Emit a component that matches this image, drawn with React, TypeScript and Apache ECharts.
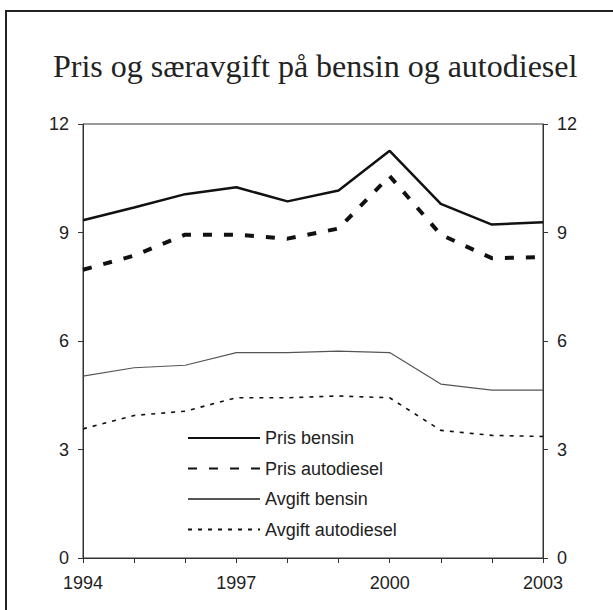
import React, { useEffect, useRef } from "react";
import * as echarts from "echarts";

const years = ["1994", "1995", "1996", "1997", "1998", "1999", "2000", "2001", "2002", "2003"];
const prisBensin = [9.34, 9.69, 10.06, 10.25, 9.86, 10.16, 11.26, 9.79, 9.22, 9.28];
const prisAutodiesel = [7.97, 8.36, 8.94, 8.94, 8.83, 9.11, 10.56, 8.94, 8.29, 8.32];
const avgiftBensin = [5.03, 5.26, 5.33, 5.68, 5.68, 5.72, 5.68, 4.81, 4.64, 4.64];
const avgiftAutodiesel = [3.57, 3.94, 4.06, 4.43, 4.43, 4.48, 4.43, 3.53, 3.39, 3.36];
const seriesNames = ["Pris bensin", "Pris autodiesel", "Avgift bensin", "Avgift autodiesel"];
const titleText = "Pris og særavgift på bensin og autodiesel";

export default function App() {
  const ref = useRef<HTMLDivElement>(null);
  useEffect(() => {
    if (!ref.current) return;
    const chart = echarts.init(ref.current, null, { renderer: "svg" });
    const axisColor = "#333";
    const sans = "'Liberation Sans', Arial, sans-serif";
    const yAxisCommon = {
      type: "value" as const,
      min: 0,
      max: 12,
      interval: 3,
      splitLine: { show: false },
      axisLine: { show: true, lineStyle: { color: axisColor, width: 1 } },
      axisTick: { show: true, length: 5, inside: false, lineStyle: { color: axisColor } },
      axisLabel: { fontSize: 18, fontFamily: sans, color: "#222", margin: 14 },
    };
    chart.setOption({
      animation: false,
      backgroundColor: "#fff",
      title: {
        text: titleText,
        left: 48,
        top: 45,
        textStyle: {
          fontFamily: "'Liberation Serif', 'Times New Roman', serif",
          fontSize: 32,
          fontWeight: "normal",
          color: "#222",
        },
      },
      graphic: [
        {
          type: "line",
          shape: { x1: 6, y1: 11, x2: 6, y2: 620 },
          style: { stroke: "#222", lineWidth: 2 },
          silent: true,
        },
        {
          type: "line",
          shape: { x1: 5, y1: 11, x2: 620, y2: 11 },
          style: { stroke: "#222", lineWidth: 2 },
          silent: true,
        },
      ],
      grid: { left: 83, right: 70, top: 124, bottom: 52, show: true, borderColor: axisColor, borderWidth: 1 },
      legend: {
        orient: "vertical",
        left: 182,
        top: 424,
        itemWidth: 72,
        itemHeight: 14,
        itemGap: 12.5,
        data: seriesNames,
        itemStyle: { opacity: 0 },
        textStyle: { fontSize: 18, fontFamily: sans, color: "#222" },
      },
      xAxis: {
        type: "category",
        data: years,
        boundaryGap: false,
        axisLine: { show: true, lineStyle: { color: axisColor } },
        axisTick: { show: true, interval: 0, length: 5, lineStyle: { color: axisColor } },
        axisLabel: { interval: 2, fontSize: 18, fontFamily: sans, color: "#222", margin: 16 },
        splitLine: { show: false },
      },
      yAxis: [
        { ...yAxisCommon, position: "left" },
        { ...yAxisCommon, position: "right" },
      ],
      series: [
        {
          name: seriesNames[0],
          type: "line",
          data: prisBensin,
          symbol: "none",
          lineStyle: { color: "#111", width: 2.5, type: "solid" },
          itemStyle: { color: "#111" },
        },
        {
          name: seriesNames[1],
          type: "line",
          data: prisAutodiesel,
          symbol: "none",
          lineStyle: { color: "#111", width: 4, type: [9, 12] },
          itemStyle: { color: "#111" },
        },
        {
          name: seriesNames[2],
          type: "line",
          data: avgiftBensin,
          symbol: "none",
          lineStyle: { color: "#555", width: 1.2, type: "solid" },
          itemStyle: { color: "#555" },
        },
        {
          name: seriesNames[3],
          type: "line",
          data: avgiftAutodiesel,
          symbol: "none",
          lineStyle: { color: "#111", width: 1.6, type: [4, 6] },
          itemStyle: { color: "#111" },
        },
      ],
    });
    return () => chart.dispose();
  }, []);
  return (
    <div
      ref={ref}
      style={{ position: "fixed", left: 0, top: 0, width: 613, height: 610, background: "#fff" }}
    />
  );
}
